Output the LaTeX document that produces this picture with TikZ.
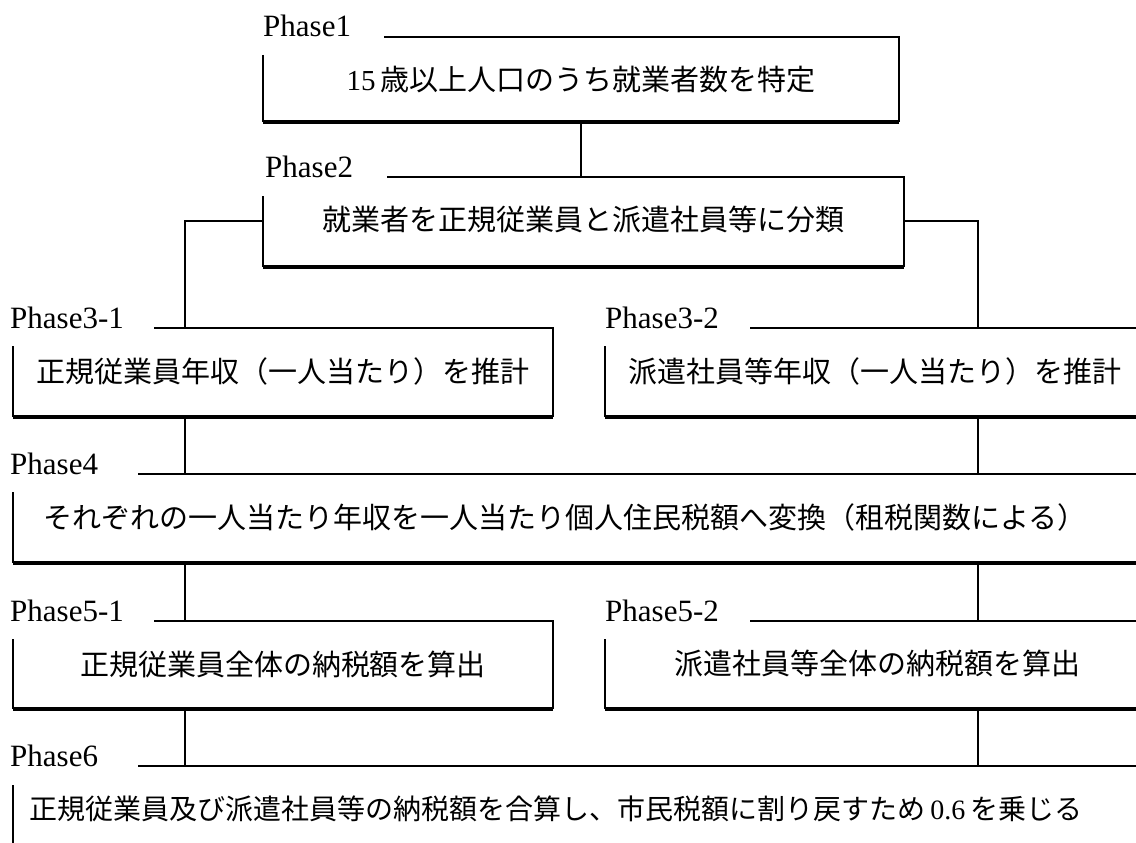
\documentclass[tikz,border=0pt]{standalone}
\usepackage{fontspec}
\setmainfont{Liberation Serif}
\newfontfamily\cjk{Noto Sans CJK JP}
\newfontfamily\lat{Liberation Serif}
\tikzset{
  lbl/.style={anchor=base west, inner sep=0pt, font=\lat\fontsize{31}{36}\selectfont},
  txt/.style={anchor=center, inner sep=0pt, font=\cjk\fontsize{29}{34}\selectfont},
  boxline/.style={line width=2.8pt, line join=miter},
  boxbottom/.style={line width=3.5pt},
  conn/.style={line width=1.1pt}
}
\begin{document}
\begin{tikzpicture}[x=1pt,y=-1pt]
\useasboundingbox (0,0) rectangle (1136,843);
\clip (0,0) rectangle (1136,843);

% ---------- Phase1
\node[lbl] (l1) at (263,37) {Phase1};
\coordinate (s1) at (384,37);
\coordinate (tr1) at (899,37);
\coordinate (br1) at (899,122);
\coordinate (bl1) at (263,122);
\coordinate (tl1) at (263,55);
\draw[boxline] (s1) -- (tr1) -- (br1);
\draw[boxbottom] (bl1) -- (br1);
\draw[boxline] (tl1) -- (bl1);
\node[txt] (t1) at (581,80) {{\lat 15}\,歳以上人口のうち就業者数を特定};

% ---------- Phase2
\node[lbl] (l2) at (265,177) {Phase2};
\coordinate (s2) at (387,177);
\coordinate (tr2) at (904,177);
\coordinate (br2) at (904,267);
\coordinate (bl2) at (263,267);
\coordinate (tl2) at (263,196);
\draw[boxline] (s2) -- (tr2) -- (br2);
\draw[boxbottom] (bl2) -- (br2);
\draw[boxline] (tl2) -- (bl2);
\node[txt] (t2) at (583,220) {就業者を正規従業員と派遣社員等に分類};

% ---------- Phase3-1
\node[lbl] (l31) at (10,328) {Phase3-1};
\coordinate (s31) at (154,328);
\coordinate (tr31) at (553,328);
\coordinate (br31) at (553,417);
\coordinate (bl31) at (13,417);
\coordinate (tl31) at (13,346);
\draw[boxline] (s31) -- (tr31) -- (br31);
\draw[boxbottom] (bl31) -- (br31);
\draw[boxline] (tl31) -- (bl31);
\node[txt] (t31) at (283,371) {正規従業員年収（一人当たり）を推計};

% ---------- Phase3-2
\node[lbl] (l32) at (605,328) {Phase3-2};
\coordinate (s32) at (750,328);
\coordinate (tr32) at (1140,328);
\coordinate (br32) at (1140,417);
\coordinate (bl32) at (605,417);
\coordinate (tl32) at (605,346);
\draw[boxline] (s32) -- (tr32);
\draw[boxbottom] (bl32) -- (br32);
\draw[boxline] (tl32) -- (bl32);
\node[txt] (t32) at (875,371) {派遣社員等年収（一人当たり）を推計};

% ---------- Phase4
\node[lbl] (l4) at (10,474) {Phase4};
\coordinate (s4) at (138,474);
\coordinate (tr4) at (1140,474);
\coordinate (br4) at (1140,563);
\coordinate (bl4) at (13,563);
\coordinate (tl4) at (13,492);
\draw[boxline] (s4) -- (tr4);
\draw[boxbottom] (bl4) -- (br4);
\draw[boxline] (tl4) -- (bl4);
\node[txt] (t4) at (565,517) {それぞれの一人当たり年収を一人当たり個人住民税額へ変換（租税関数による）};

% ---------- Phase5-1
\node[lbl] (l51) at (10,621) {Phase5-1};
\coordinate (s51) at (154,621);
\coordinate (tr51) at (553,621);
\coordinate (br51) at (553,709);
\coordinate (bl51) at (13,709);
\coordinate (tl51) at (13,639);
\draw[boxline] (s51) -- (tr51) -- (br51);
\draw[boxbottom] (bl51) -- (br51);
\draw[boxline] (tl51) -- (bl51);
\node[txt] (t51) at (283,664) {正規従業員全体の納税額を算出};

% ---------- Phase5-2
\node[lbl] (l52) at (605,621) {Phase5-2};
\coordinate (s52) at (750,621);
\coordinate (tr52) at (1140,621);
\coordinate (br52) at (1140,709);
\coordinate (bl52) at (605,709);
\coordinate (tl52) at (605,639);
\draw[boxline] (s52) -- (tr52);
\draw[boxbottom] (bl52) -- (br52);
\draw[boxline] (tl52) -- (bl52);
\node[txt] (t52) at (877,664) {派遣社員等全体の納税額を算出};

% ---------- Phase6
\node[lbl] (l6) at (10,766) {Phase6};
\coordinate (s6) at (138,766);
\coordinate (tr6) at (1140,766);
\coordinate (bl6) at (13,850);
\coordinate (tl6) at (13,785);
\draw[boxline] (s6) -- (tr6);
\draw[boxline] (tl6) -- (bl6);
\node[txt, font=\cjk\fontsize{28}{34}\selectfont] (t6) at (556,809) {正規従業員及び派遣社員等の納税額を合算し、市民税額に割り戻すため\,{\lat 0.6}\,を乗じる};

% ---------- connectors
\coordinate (c1a) at (581,122);
\coordinate (c1b) at (581,177);
\draw[conn] (c1a) -- (c1b);

\coordinate (c2l) at (263,221);
\coordinate (c2lc) at (185,221);
\coordinate (c2ld) at (185,328);
\draw[conn] (c2l) -- (c2lc) -- (c2ld);
\coordinate (c2r) at (904,221);
\coordinate (c2rc) at (978,221);
\coordinate (c2rd) at (978,328);
\draw[conn] (c2r) -- (c2rc) -- (c2rd);

\coordinate (c3la) at (185,417);
\coordinate (c3lb) at (185,474);
\draw[conn] (c3la) -- (c3lb);
\coordinate (c3ra) at (978,417);
\coordinate (c3rb) at (978,474);
\draw[conn] (c3ra) -- (c3rb);

\coordinate (c4la) at (185,563);
\coordinate (c4lb) at (185,621);
\draw[conn] (c4la) -- (c4lb);
\coordinate (c4ra) at (978,563);
\coordinate (c4rb) at (978,621);
\draw[conn] (c4ra) -- (c4rb);

\coordinate (c5la) at (185,709);
\coordinate (c5lb) at (185,766);
\draw[conn] (c5la) -- (c5lb);
\coordinate (c5ra) at (978,709);
\coordinate (c5rb) at (978,766);
\draw[conn] (c5ra) -- (c5rb);
\end{tikzpicture}
\end{document}
